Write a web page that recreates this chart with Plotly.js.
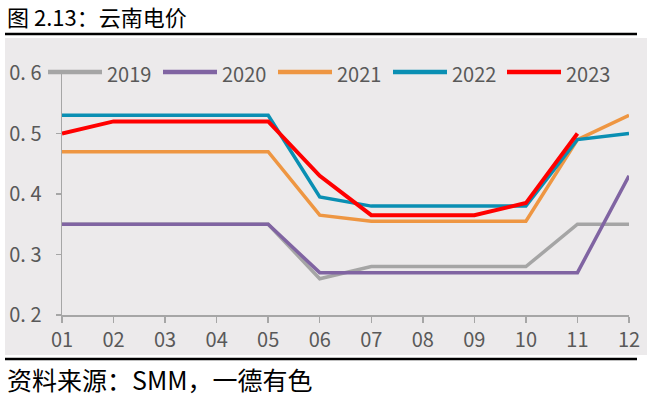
<!DOCTYPE html>
<html>
<head>
<meta charset="utf-8">
<script src="https://cdn.plot.ly/plotly-3.0.1.min.js"></script>
<style>
html,body{margin:0;padding:0;background:#fff;}
#chart{width:653px;height:396px;}
</style>
</head>
<body>
<div id="chart"></div>
<script>
// ---- data ----
const months = ["01","02","03","04","05","06","07","08","09","10","11","12"];
const seriesNames = ["2019","2020","2021","2022","2023"];
const v2019 = [0.35,0.35,0.35,0.35,0.35,0.26,0.28,0.28,0.28,0.28,0.35,0.35];
const v2020 = [0.35,0.35,0.35,0.35,0.35,0.27,0.27,0.27,0.27,0.27,0.27,0.43];
const v2021 = [0.47,0.47,0.47,0.47,0.47,0.365,0.355,0.355,0.355,0.355,0.49,0.53];
const v2022 = [0.53,0.53,0.53,0.53,0.53,0.395,0.38,0.38,0.38,0.38,0.49,0.50];
const v2023 = [0.50,0.52,0.52,0.52,0.52,0.43,0.365,0.365,0.365,0.385,0.50];
const yTickVals = [0.2,0.3,0.4,0.5,0.6];
const yTickText = ["0. 2","0. 3","0. 4","0. 5","0. 6"];
const titleText = "图 2.13：云南电价";
const sourceText = "资料来源：SMM，一德有色";

// ---- style ----
const colors = ["#A5A5A5","#8064A2","#EE9642","#0A8FB3","#FF0000"];
const widths = [3.5,3.5,3.5,3.5,4];
const values = [v2019,v2020,v2021,v2022,v2023];

const W = 653, H = 396;
const L = 62, R = 24, T = 73, B = 81;
const PW = W - L - R, PH = H - T - B;
const px = x => (x - L) / PW;
const py = y => (H - B - y) / PH;

const traces = values.map((v, i) => ({
  x: months.slice(0, v.length),
  y: v,
  type: "scatter",
  mode: "lines",
  name: seriesNames[i],
  line: {color: colors[i], width: widths[i]},
  hoverinfo: "skip",
  showlegend: false
}));

const shapes = [
  {type:"rect", xref:"paper", yref:"paper", x0:px(5), x1:px(647), y0:py(355), y1:py(38),
   fillcolor:"#ECEAEB", line:{width:0}, layer:"below"},
  {type:"line", xref:"paper", yref:"paper", x0:px(5), x1:px(637), y0:py(34), y1:py(34),
   line:{color:"#000", width:2.6}},
  {type:"line", xref:"paper", yref:"paper", x0:px(5), x1:px(637), y0:py(359), y1:py(359),
   line:{color:"#000", width:2.6}}
];

const annotations = [
  {xref:"paper", yref:"paper", x:px(5), y:py(16), xanchor:"left", yanchor:"middle",
   text:titleText, showarrow:false, font:{family:"Noto Sans CJK SC", size:22, color:"#000"}},
  {xref:"paper", yref:"paper", x:px(5), y:py(379), xanchor:"left", yanchor:"middle",
   text:sourceText, showarrow:false, font:{family:"Noto Sans CJK SC", size:25, color:"#000"}}
];

// manual legend
const legStart = [48,163,278,393,507];
const legY = 72;
seriesNames.forEach((n, i) => {
  shapes.push({type:"line", xref:"paper", yref:"paper",
    x0:px(legStart[i]), x1:px(legStart[i]+54), y0:py(legY), y1:py(legY),
    line:{color:colors[i], width:4.5}});
  annotations.push({xref:"paper", yref:"paper", x:px(legStart[i]+57), y:py(legY+1),
    xanchor:"left", yanchor:"middle", text:n, showarrow:false,
    font:{family:"Noto Sans CJK SC", size:20, color:"#595959"}});
});

const axisFont = {family:"Noto Sans CJK SC", size:20, color:"#595959"};

const layout = {
  width: W, height: H,
  margin: {l:L, r:R, t:T, b:B, pad:0},
  paper_bgcolor: "#FFFFFF",
  plot_bgcolor: "rgba(0,0,0,0)",
  showlegend: false,
  xaxis: {
    type: "category",
    categoryarray: months,
    range: [0, months.length - 1],
    showgrid: false, zeroline: false,
    showline: true, linecolor: "#A6A6A6", linewidth: 1.5,
    ticks: "outside", ticklen: 6, tickcolor: "#A6A6A6", tickwidth: 1.5,
    tickfont: axisFont,
    ticklabelstandoff: 0
  },
  yaxis: {
    range: [0.2, 0.6],
    tickmode: "array", tickvals: yTickVals, ticktext: yTickText,
    showgrid: false, zeroline: false,
    showline: true, linecolor: "#A6A6A6", linewidth: 1.5,
    ticks: "outside", ticklen: 5, tickcolor: "#A6A6A6", tickwidth: 1.5,
    tickfont: axisFont,
    ticklabelstandoff: 10
  },
  shapes: shapes,
  annotations: annotations
};

Plotly.newPlot("chart", traces, layout, {displayModeBar:false, staticPlot:true});
</script>
</body>
</html>
